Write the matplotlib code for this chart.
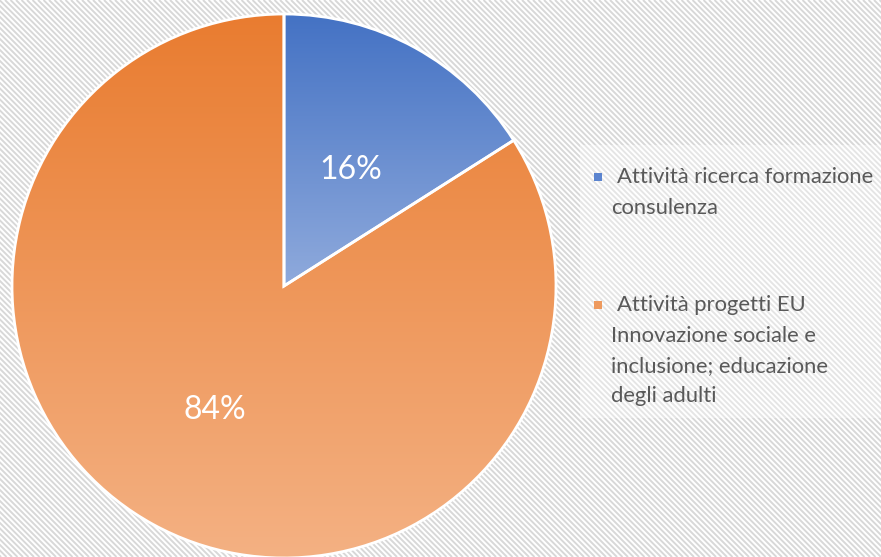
import numpy as np
import matplotlib
matplotlib.use("Agg")
import matplotlib.pyplot as plt
from matplotlib.collections import LineCollection
from matplotlib.colors import LinearSegmentedColormap
from matplotlib.patches import Rectangle

# data
labels = ["Attività ricerca formazione\nconsulenza",
          "Attività progetti EU\nInnovazione sociale e\ninclusione; educazione\ndegli adulti"]
shares = [16, 84]
pct_labels = ["16%", "84%"]
# gradient (top, bottom) per slice
grad_colors = [("#4472C4", "#8FAADC"), ("#E97C30", "#F4B183")]
legend_colors = ["#5B84CF", "#EE9A5E"]

W, H = 881, 557
fig = plt.figure(figsize=(W / 100, H / 100), dpi=100)

# striped background
bg = fig.add_axes([0, 0, 1, 1])
bg.set_xlim(0, W)
bg.set_ylim(0, H)
bg.axis("off")
period = 5.5
offs = np.arange(-10, W + H + 10, period)
segs = [[(c, H), (c + H, 0)] for c in offs - H]
bg.add_collection(LineCollection(segs, colors="#D8D8D8", linewidths=1.4, zorder=1))
bg.add_patch(Rectangle((580, H - 418), W - 580, 273, facecolor="white",
                       alpha=0.35, edgecolor="none", zorder=2))

# pie
ax = fig.add_axes([12 / W, -1 / H, 544 / W, 544 / H])
wedges, _ = ax.pie(shares, startangle=90, counterclock=False, radius=1,
                   wedgeprops=dict(edgecolor="white", linewidth=2))
ax.set_xlim(-1, 1)
ax.set_ylim(-1, 1)
ax.set_aspect("equal")

for w, (top, bot) in zip(wedges, grad_colors):
    w.set_facecolor("none")
    bb = w.get_path().get_extents()
    ymin, ymax = max(bb.y0, -1), min(bb.y1, 1)
    cmap = LinearSegmentedColormap.from_list("g", [bot, top])
    grad = np.linspace(0, 1, 256).reshape(-1, 1)
    im = ax.imshow(grad, cmap=cmap, origin="lower", aspect="auto",
                   extent=[-1, 1, ymin, ymax], zorder=0.5)
    im.set_clip_path(w)
    w.set_zorder(1)

ax.set_xlim(-1, 1)
ax.set_ylim(-1, 1)

ax.text(0.245, 0.425, pct_labels[0], color="white", fontsize=23,
        family="Lato", ha="center", va="center")
ax.text(-0.255, -0.455, pct_labels[1], color="white", fontsize=23,
        family="Lato", ha="center", va="center")

# legend drawn manually
entry_tops = [177, 305]
line_h = 30.5
for lab, col, y0 in zip(labels, legend_colors, entry_tops):
    bg.add_patch(Rectangle((594, H - y0 - 4), 8, 8, facecolor=col,
                           edgecolor="none", zorder=5))
    for i, line in enumerate(lab.split("\n")):
        x = 617 if i == 0 else 611
        bg.text(x, H - (y0 + i * line_h), line, color="#595959",
                fontsize=15.8, family="Lato", ha="left", va="center", zorder=5)

fig.savefig("out.png", dpi=100)
